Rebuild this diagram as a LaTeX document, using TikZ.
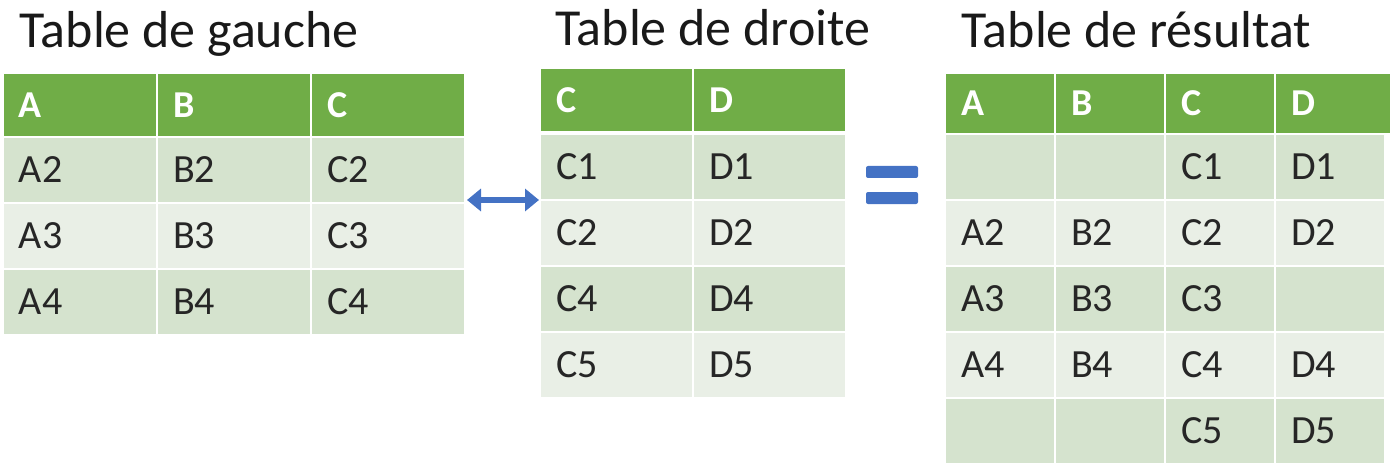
\documentclass[tikz,border=0pt]{standalone}
\usepackage{fontspec}
\setmainfont{Carlito}
\usetikzlibrary{arrows.meta}
\definecolor{headgreen}{HTML}{70AD47}
\definecolor{rowdark}{HTML}{D5E3CE}
\definecolor{rowlight}{HTML}{E9EFE6}
\definecolor{arrowblue}{HTML}{4472C4}
\begin{document}
\begin{tikzpicture}[x=1pt, y=-1pt]
  \tikzset{cell/.style={anchor=north west, draw=white, line width=2pt,
             inner sep=0pt, font=\fontsize{40}{40}\selectfont, text=black!85,
             text depth=0pt},
           headcell/.style={cell, fill=headgreen, text=white, font=\fontsize{38}{38}\selectfont\bfseries},
           title/.style={anchor=base west, font=\fontsize{52}{52}\selectfont, text=black!90}}
  \useasboundingbox (0,0) rectangle (1390,468);
  % titles
  \node[title] (tleft) at (16,48) {Table de gauche};
  \node[title] (tmid) at (552,46) {Table de droite};
  \node[title] (tres) at (958,48) {Table de résultat};
  % left table
  \foreach \c/\t [count=\i from 0] in {A,B,C}
    \node[headcell, minimum width=154, minimum height=64, text width=122]
      (l-h\i) at (2+154*\i,72) {\t};
  \foreach \a/\b/\c/\f [count=\r from 1] in {A2/B2/C2/rowdark,A3/B3/C3/rowlight,A4/B4/C4/rowdark}
    \foreach \t [count=\i from 0] in {\a,\b,\c}
      \node[cell, fill=\f, minimum width=154, minimum height=66, text width=122]
        (l-\r\i) at (2+154*\i,70+66*\r) {\t};
  % middle table
  \foreach \t [count=\i from 0] in {C,D}
    \node[headcell, minimum width=153, minimum height=64, text width=121]
      (m-h\i) at (539+153*\i,67) {\t};
  \foreach \a/\b/\f [count=\r from 1] in {C1/D1/rowdark,C2/D2/rowlight,C4/D4/rowdark,C5/D5/rowlight}
    \foreach \t [count=\i from 0] in {\a,\b}
      \node[cell, fill=\f, minimum width=153, minimum height=66, text width=121]
        (m-\r\i) at (539+153*\i,67+66*\r) {\t};
  % result table
  \foreach \t [count=\i from 0] in {A,B,C,D}
    \node[headcell, minimum width=110, minimum height=61, text width=78]
      (r-h\i) at (944+110*\i,72) {\t};
  \node[headcell, minimum width=116, minimum height=61, text width=84] (r-h3) at (1274,72) {D};
  \foreach \a/\b/\c/\d/\f [count=\r from 1] in
    {{}/{}/C1/D1/rowdark,A2/B2/C2/D2/rowlight,A3/B3/C3/{}/rowdark,A4/B4/C4/D4/rowlight,{}/{}/C5/D5/rowdark}
    \foreach \t [count=\i from 0] in {\a,\b,\c,\d}
      \node[cell, fill=\f, minimum width=110, minimum height=66, text width=78]
        (r-\r\i) at (944+110*\i,67+66*\r) {\t};
  % join and equals
  \draw[arrowblue, line width=6pt, <->, >={Triangle[length=14pt,width=22pt]}]
    (l-12.east) ++(1,30) coordinate (ja) -- (m-10.west |- ja);
  \fill[arrowblue, rounded corners=2pt] (866,166) rectangle (918,178);
  \fill[arrowblue, rounded corners=2pt] (866,192) rectangle (918,204);
\end{tikzpicture}
\end{document}
